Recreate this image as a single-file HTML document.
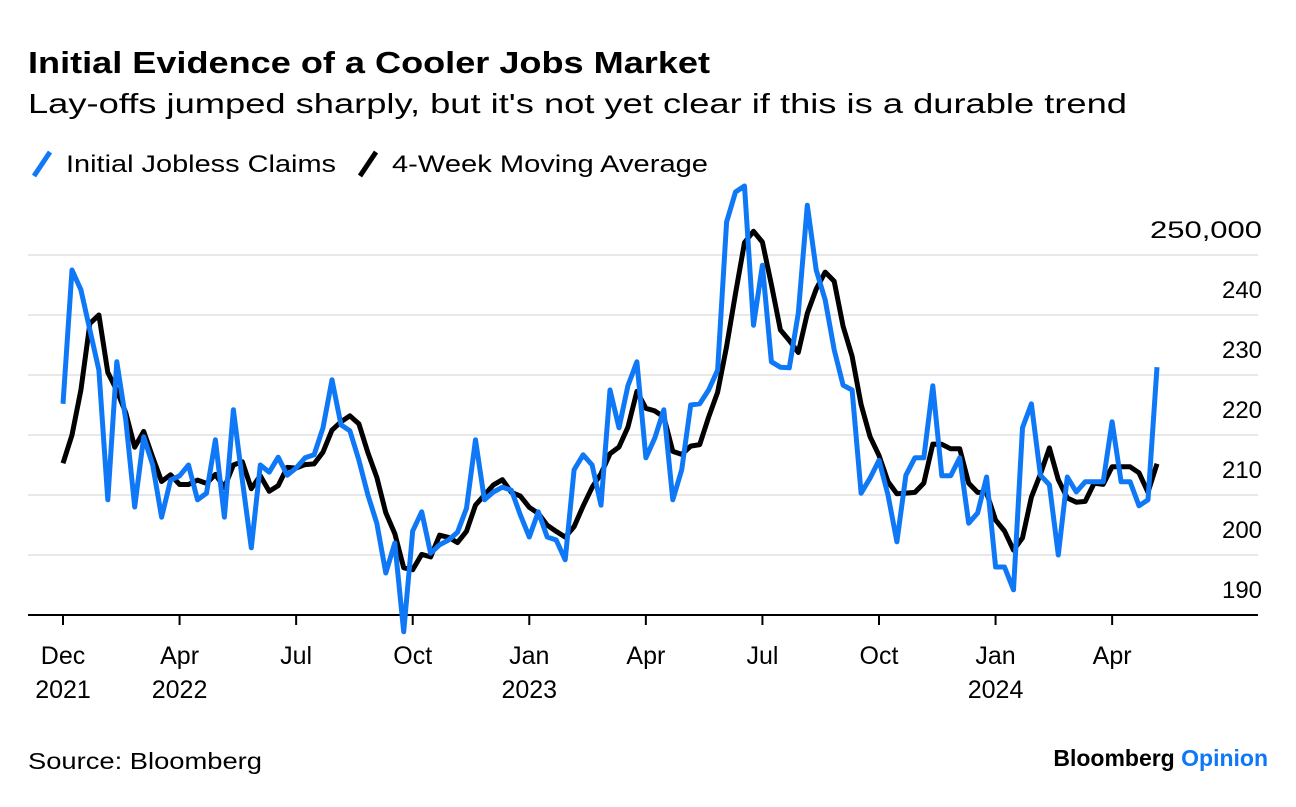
<!DOCTYPE html>
<html><head><meta charset="utf-8"><style>
body{margin:0;background:#fff;font-family:"Liberation Sans",sans-serif;}
svg text{font-family:"Liberation Sans",sans-serif;}
</style></head><body>
<svg id="chart" width="1296" height="802" viewBox="0 0 1296 802" xmlns="http://www.w3.org/2000/svg">
<text x="28" y="73" font-size="31" font-weight="bold" fill="#000" textLength="682" lengthAdjust="spacingAndGlyphs">Initial Evidence of a Cooler Jobs Market</text>
<text x="28" y="113" font-size="28" fill="#000" textLength="1099" lengthAdjust="spacingAndGlyphs">Lay-offs jumped sharply, but it's not yet clear if this is a durable trend</text>
<g>
<g><line x1="34" y1="176" x2="50" y2="152" stroke="#0f78f6" stroke-width="5"/><text x="66" y="172" font-size="24" fill="#000" textLength="270" lengthAdjust="spacingAndGlyphs">Initial Jobless Claims</text></g>
<g><line x1="360" y1="176" x2="376" y2="152" stroke="#000" stroke-width="5"/><text x="392" y="172" font-size="24" fill="#000" textLength="316" lengthAdjust="spacingAndGlyphs">4-Week Moving Average</text></g>
</g>
<g id="grid"></g><g id="xaxis"></g><g id="series"></g>
<text x="28" y="769" font-size="23" fill="#000" textLength="234" lengthAdjust="spacingAndGlyphs">Source: Bloomberg</text>
<text x="1268" y="766" font-size="23" font-weight="bold" text-anchor="end"><tspan fill="#000">Bloomberg </tspan><tspan fill="#0f78f6">Opinion</tspan></text>
</svg>
<script>
const claims=[225.2,247.5,244.2,237.5,230.8,209.2,232.2,222.5,208,219.7,215,206.3,212.5,213.2,215,209.2,210.3,219.2,206.3,224.2,212.5,201.2,215,213.8,216.3,213.3,214.5,216.2,216.7,221.2,229.2,221.7,220.7,215.8,210,205.3,197,202,187.2,204,207.2,200.3,201.7,202.5,203.8,207.8,219.2,209.2,210.5,211.3,210.8,206.7,203,207.2,203,202.5,199.2,214.2,216.7,215,208.3,227.5,221.2,228.2,232.2,216.2,219.5,224.2,209.2,214.2,225,225.2,227.5,230.8,255.5,260.5,261.5,238.3,248.3,232.2,231.3,231.2,240.3,258.3,247.5,242.5,234.2,228.3,227.5,210.3,212.8,215.8,210,202.2,213.3,216.2,216.2,228.2,213.2,213.2,216.2,205.3,207,213,198,198,194.2,221.2,225.2,213.3,211.7,200,213,210.5,212.2,212.2,212.2,222.2,212.2,212.2,208.2,209.2,231.3];
const priorWeeks=[228.7,214.2,193.1];
const yTicks=[190,200,210,220,230,240,250];
const yTickLabels=["190","200","210","220","230","240","250,000"];
const xTickWeeks=[0,13,26,39,52,65,78,91,104,117];
const xTickMonths=["Dec","Apr","Jul","Oct","Jan","Apr","Jul","Oct","Jan","Apr"];
const xTickYears=["2021","2022","","","2023","","","","2024",""];

const NS="http://www.w3.org/2000/svg";
const xS=i=>63+i*8.967;
const yS=v=>615-(v-190)*6;
function mk(tag,attrs,parent){const e=document.createElementNS(NS,tag);for(const k in attrs)e.setAttribute(k,attrs[k]);parent.appendChild(e);return e;}
const grid=document.getElementById('grid');
yTicks.forEach((v,i)=>{
 if(i>0){const l=mk('line',{x1:28,x2:1258,y1:yS(v),y2:yS(v),stroke:'#e8e8e8','stroke-width':2},grid);
 
 }
 const lab=yTickLabels[i];
 const t=mk('text',{x:1262,y:yS(v)-17,'font-size':24,'text-anchor':'end',fill:'#000',textLength:lab.length>3?112:40,lengthAdjust:'spacingAndGlyphs'},grid);
 t.textContent=lab;
 
 
});
const xa=document.getElementById('xaxis');
const base=mk('line',{x1:28,x2:1258,y1:615,y2:615,stroke:'#000','stroke-width':2},xa);


xTickWeeks.forEach((w,i)=>{
 const x=xS(w);
 const tk=mk('line',{x1:x,x2:x,y1:615,y2:625,stroke:'#000','stroke-width':2},xa);
 
 
 const t=mk('text',{x:x,y:664,'font-size':25,'text-anchor':'middle',fill:'#000'},xa);
 t.textContent=xTickMonths[i];
 
 
 if(xTickYears[i]){const t2=mk('text',{x:x,y:698,'font-size':25,'text-anchor':'middle',fill:'#000'},xa);
 t2.textContent=xTickYears[i];
 
 }
});
const all=priorWeeks.concat(claims);
const ma=claims.map((v,i)=>(all[i]+all[i+1]+all[i+2]+all[i+3])/4);
const ser=document.getElementById('series');
const pts=a=>a.map((v,i)=>xS(i).toFixed(1)+','+yS(v).toFixed(1)).join(' ');
const l1=mk('polyline',{points:pts(ma),fill:'none',stroke:'#000','stroke-width':5,'stroke-linejoin':'round'},ser);


const l2=mk('polyline',{points:pts(claims),fill:'none',stroke:'#0f78f6','stroke-width':5,'stroke-linejoin':'round'},ser);


</script>
</body></html>
